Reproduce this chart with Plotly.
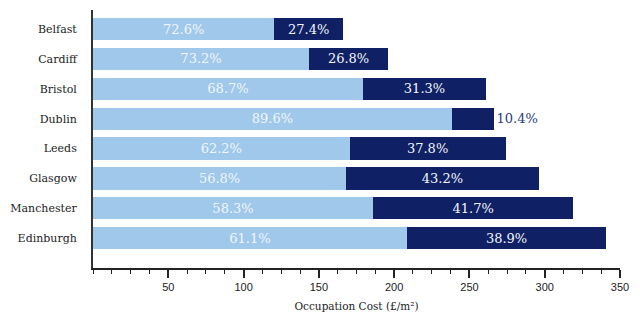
import plotly.graph_objects as go

# Occupation cost per city (£/m²) and the percentage split of each bar
cities = ["Belfast", "Cardiff", "Bristol", "Dublin", "Leeds", "Glasgow", "Manchester", "Edinburgh"]
total_cost = [166, 196, 261, 266, 274, 296, 319, 341]
share_first = [72.6, 73.2, 68.7, 89.6, 62.2, 56.8, 58.3, 61.1]
share_second = [27.4, 26.8, 31.3, 10.4, 37.8, 43.2, 41.7, 38.9]
x_ticks = [50, 100, 150, 200, 250, 300, 350]

LIGHT = "#9fc8ea"
DARK = "#0f2064"
LABEL_FONT = "DejaVu Serif"

first_vals = [t * p / 100 for t, p in zip(total_cost, share_first)]
second_vals = [t * p / 100 for t, p in zip(total_cost, share_second)]

# short dark segments get their label outside the bar
second_pos = ["outside" if p < 15 else "inside" for p in share_second]

fig = go.Figure()
fig.add_trace(go.Bar(
    y=cities, x=first_vals, orientation="h", name="Share 1",
    marker=dict(color=LIGHT, line=dict(width=0)),
    text=[f"{p:.1f}%" for p in share_first], textposition="inside",
    insidetextanchor="middle",
    textfont=dict(family=LABEL_FONT, size=13, color="#f2f6fb"),
    hoverinfo="skip",
))
fig.add_trace(go.Bar(
    y=cities, x=second_vals, orientation="h", name="Share 2",
    marker=dict(color=DARK, line=dict(width=0)),
    text=[f"{p:.1f}%" for p in share_second], textposition=second_pos,
    insidetextanchor="middle",
    insidetextfont=dict(family=LABEL_FONT, size=13, color="#f2f6fb"),
    outsidetextfont=dict(family=LABEL_FONT, size=13, color="#2b3a85"),
    cliponaxis=False,
    hoverinfo="skip",
))

fig.update_layout(
    width=640, height=321,
    margin=dict(l=90, r=20, t=10, b=47),
    barmode="stack", bargap=0.25,
    plot_bgcolor="white", paper_bgcolor="white",
    showlegend=False,
    uniformtext=dict(mode=False),
)
fig.update_traces(constraintext="none")

fig.update_xaxes(
    range=[0, 350], tickvals=x_ticks,
    ticks="outside", ticklen=8, tickwidth=1.5, tickcolor="#222",
    minor=dict(dtick=12.5, ticks="outside", ticklen=4, tickwidth=1.2, tickcolor="#222"),
    showline=True, linecolor="#222", linewidth=2,
    showgrid=False, zeroline=False,
    tickfont=dict(family="Liberation Sans", size=11, color="#222"),
    title=dict(text="Occupation Cost (£/m²)",
               font=dict(family=LABEL_FONT, size=10.5, color="#222"), standoff=10),
)
fig.update_yaxes(
    categoryorder="array", categoryarray=cities[::-1],
    range=[-1.0, 7.64],
    showline=True, linecolor="#333", linewidth=2,
    showgrid=False, zeroline=False, ticks="",
    ticklabelstandoff=12,
    tickfont=dict(family=LABEL_FONT, size=11, color="#222"),
)

fig.write_html("out.html")
